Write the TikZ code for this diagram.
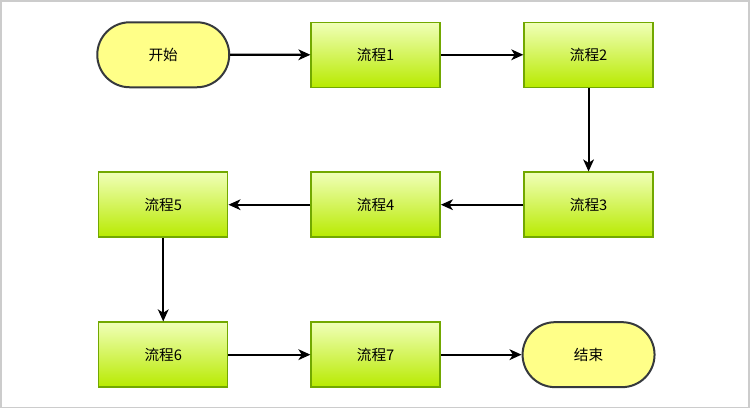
\documentclass[tikz,border=0pt]{standalone}
\usepackage{fontspec}
\setmainfont{Liberation Sans}
\newfontfamily\cjk{Noto Sans CJK SC}
\usetikzlibrary{shapes.misc,arrows.meta}
\definecolor{termfill}{HTML}{FFFF88}
\definecolor{termdraw}{HTML}{36393D}
\definecolor{proctop}{HTML}{F0FFB8}
\definecolor{procbot}{HTML}{B8EA00}
\definecolor{procdraw}{HTML}{72A800}
\definecolor{frame}{HTML}{CCCCCC}
\tikzset{
  terminal/.style={rounded rectangle, draw=termdraw, fill=termfill, line width=1.5pt,
    minimum width=132*0.75pt, minimum height=65*0.75pt, inner sep=0pt,
    font=\cjk\fontsize{11}{13}\selectfont},
  process/.style={rectangle, draw=procdraw, top color=proctop, bottom color=procbot, line width=1.1pt,
    minimum width=129*0.75pt, minimum height=65*0.75pt, inner sep=0pt,
    font=\cjk\fontsize{11}{13}\selectfont},
  flow/.style={line width=1.6pt, draw=black, -{Stealth[length=9pt,width=8pt,inset=2.5pt]}}
}
\begin{document}
\begin{tikzpicture}[x=0.75pt,y=-0.75pt]
\path[draw=frame, line width=1.2pt, fill=white] (0.5,0.5) rectangle (749.2,407.2);
\useasboundingbox (0,0) rectangle (750,408);
\node[terminal] (start) at (163,54.5) {开始};
\node[process] (p1) at (375.5,54.5) {流程1};
\node[process] (p2) at (588.5,54.5) {流程2};
\node[process] (p3) at (588.5,204.5) {流程3};
\node[process] (p4) at (375.5,204.5) {流程4};
\node[process] (p5) at (163,204.5) {流程5};
\node[process] (p6) at (163,354.5) {流程6};
\node[process] (p7) at (375.5,354.5) {流程7};
\node[terminal] (end) at (588.5,354.5) {结束};
\draw[flow] (start) -- (p1);
\draw[flow] (p1) -- (p2);
\draw[flow] (p2) -- (p3);
\draw[flow] (p3) -- (p4);
\draw[flow] (p4) -- (p5);
\draw[flow] (p5) -- (p6);
\draw[flow] (p6) -- (p7);
\draw[flow] (p7) -- (end);
\end{tikzpicture}
\end{document}
